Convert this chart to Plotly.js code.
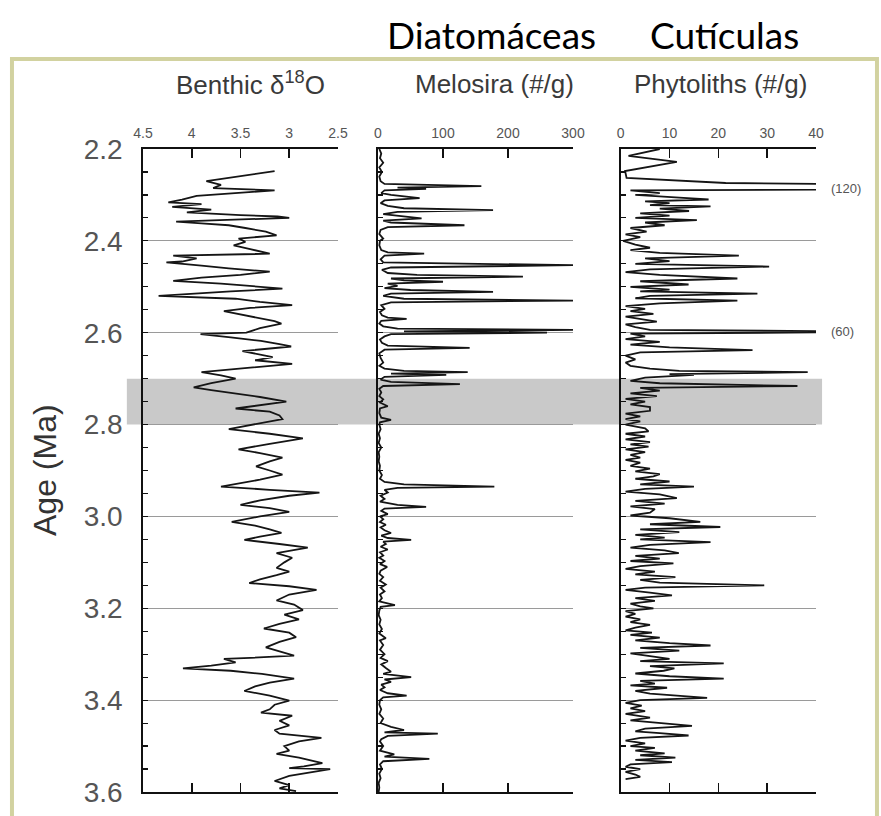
<!DOCTYPE html>
<html><head><meta charset="utf-8">
<script src="https://cdn.plot.ly/plotly-3.0.1.min.js"></script>
<style>html,body{margin:0;padding:0;background:#fff}</style>
</head><body><div id="chart" style="width:881px;height:816px"></div>
<script>
// ---- Benthic delta18O (per mil), age in Ma
const benthicAge = [2.248,2.27,2.278,2.285,2.29,2.296,2.302,2.31,2.316,2.32,2.326,2.332,2.338,2.344,2.347,2.35,2.354,2.358,2.362,2.366,2.372,2.38,2.388,2.395,2.402,2.41,2.418,2.428,2.432,2.438,2.445,2.447,2.454,2.46,2.467,2.474,2.48,2.487,2.493,2.5,2.504,2.51,2.516,2.52,2.526,2.533,2.54,2.546,2.553,2.56,2.568,2.575,2.58,2.59,2.6,2.603,2.61,2.618,2.625,2.63,2.64,2.647,2.653,2.66,2.668,2.676,2.686,2.693,2.70,2.71,2.719,2.725,2.73,2.74,2.75,2.757,2.765,2.772,2.78,2.788,2.795,2.8,2.81,2.82,2.83,2.842,2.854,2.862,2.872,2.88,2.891,2.9,2.909,2.92,2.935,2.942,2.948,2.955,2.965,2.975,2.982,2.99,3.0,3.012,3.02,3.028,3.036,3.044,3.051,3.06,3.068,3.075,3.08,3.09,3.1,3.112,3.12,3.128,3.137,3.145,3.152,3.16,3.17,3.183,3.192,3.204,3.214,3.224,3.234,3.244,3.253,3.263,3.273,3.285,3.294,3.303,3.308,3.31,3.318,3.325,3.331,3.336,3.343,3.348,3.353,3.362,3.37,3.38,3.39,3.401,3.41,3.42,3.427,3.434,3.445,3.455,3.465,3.473,3.482,3.49,3.5,3.51,3.517,3.525,3.537,3.544,3.548,3.55,3.558,3.565,3.576,3.585,3.592,3.598];
const benthicVal = [3.15,3.85,3.7,3.78,3.15,3.6,3.95,4.1,4.24,3.9,4.2,3.8,4.05,3.5,3.12,3.0,3.6,4.16,3.9,3.62,3.45,3.24,3.13,3.52,3.45,3.57,3.4,3.2,4.19,3.95,4.1,4.26,3.9,3.62,3.2,3.5,3.9,4.19,3.7,3.24,3.07,3.6,4.0,4.34,3.55,3.3,2.97,3.4,3.67,3.5,3.3,3.15,3.08,3.3,3.44,3.91,3.6,3.29,3.1,2.98,3.48,3.3,3.17,3.35,2.97,3.4,3.9,3.7,3.55,3.8,3.98,3.8,3.62,3.3,3.03,3.3,3.55,3.2,3.1,3.07,3.25,3.4,3.62,3.2,2.86,3.2,3.52,3.3,3.07,3.2,3.34,3.2,3.07,3.3,3.7,3.2,2.69,3.0,3.3,3.5,3.2,3.0,3.3,3.59,3.35,3.2,3.08,3.3,3.46,3.1,2.81,3.0,3.13,2.97,3.05,3.13,3.0,3.13,3.3,3.41,3.0,2.72,3.0,3.13,2.95,2.86,3.05,2.9,3.1,3.26,3.0,2.93,3.1,3.24,3.1,2.95,3.4,3.67,3.55,3.8,4.09,3.6,3.28,3.1,2.95,3.2,3.35,3.46,3.2,3.0,3.15,3.2,3.29,2.97,3.1,3.0,3.15,3.1,2.67,2.9,3.05,3.0,3.13,2.9,2.66,2.85,3.0,2.58,2.8,3.0,3.15,3.0,3.1,2.93];

// ---- Melosira (#/g)
const melosiraAge = [2.2,2.21,2.22,2.23,2.24,2.25,2.26,2.27,2.276,2.281,2.284,2.287,2.29,2.296,2.3,2.307,2.312,2.318,2.324,2.329,2.333,2.337,2.342,2.347,2.351,2.356,2.36,2.366,2.37,2.376,2.385,2.395,2.4,2.41,2.42,2.425,2.428,2.432,2.44,2.447,2.453,2.458,2.463,2.47,2.474,2.478,2.482,2.486,2.489,2.493,2.498,2.503,2.507,2.511,2.515,2.52,2.526,2.53,2.534,2.54,2.548,2.555,2.562,2.567,2.57,2.574,2.58,2.586,2.591,2.594,2.597,2.6,2.603,2.608,2.615,2.622,2.628,2.633,2.637,2.645,2.655,2.665,2.672,2.678,2.683,2.686,2.689,2.692,2.696,2.702,2.707,2.712,2.716,2.722,2.73,2.738,2.745,2.752,2.76,2.765,2.775,2.785,2.79,2.795,2.8,2.81,2.82,2.83,2.84,2.85,2.86,2.87,2.88,2.89,2.9,2.91,2.918,2.925,2.93,2.935,2.938,2.942,2.948,2.955,2.962,2.968,2.975,2.979,2.983,2.988,2.995,3.0,3.006,3.012,3.018,3.024,3.03,3.036,3.042,3.047,3.051,3.055,3.06,3.066,3.072,3.078,3.085,3.09,3.097,3.104,3.11,3.118,3.125,3.132,3.14,3.148,3.155,3.163,3.17,3.178,3.185,3.193,3.197,3.205,3.215,3.225,3.235,3.245,3.255,3.265,3.27,3.28,3.29,3.3,3.308,3.315,3.322,3.33,3.338,3.343,3.35,3.355,3.36,3.366,3.372,3.378,3.385,3.39,3.394,3.4,3.41,3.42,3.43,3.44,3.45,3.458,3.465,3.47,3.473,3.478,3.485,3.49,3.5,3.51,3.518,3.523,3.528,3.533,3.54,3.55,3.56,3.57,3.58,3.59,3.6];
const melosiraVal = [2,5,3,8,2,6,2,4,10,159,30,74,10,5,20,64,10,4,15,40,177,30,8,40,67,8,20,133,15,4,2,8,3,2,5,15,71,10,4,8,300,20,6,15,60,223,20,40,100,15,30,10,50,177,20,8,40,300,20,5,10,3,6,15,44,5,2,8,30,300,40,260,20,10,3,6,15,141,10,2,4,8,2,10,40,138,20,105,10,4,20,126,8,2,5,2,8,3,15,3,2,5,20,3,2,4,1,3,1,5,1,2,1,3,2,6,3,10,40,179,30,10,15,4,10,3,30,74,10,5,15,3,8,3,12,4,10,20,5,15,51,8,12,4,15,3,8,2,10,3,14,4,2,8,3,12,4,10,3,6,2,26,4,2,1,4,2,6,2,12,3,8,3,10,4,15,5,12,20,8,51,10,20,5,10,3,15,44,8,3,2,5,2,8,4,20,40,10,92,15,5,3,8,3,25,10,79,8,3,6,2,4,1,2,1];

// ---- Phytoliths (#/g)
const phytoAge = [2.2,2.215,2.228,2.248,2.263,2.274,2.285,2.29,2.296,2.3,2.306,2.31,2.314,2.318,2.322,2.325,2.33,2.335,2.34,2.345,2.35,2.355,2.36,2.366,2.372,2.38,2.386,2.392,2.4,2.408,2.415,2.42,2.426,2.432,2.438,2.444,2.45,2.456,2.462,2.468,2.474,2.482,2.488,2.495,2.5,2.506,2.51,2.515,2.52,2.525,2.53,2.536,2.542,2.548,2.553,2.559,2.565,2.57,2.576,2.582,2.588,2.594,2.598,2.602,2.608,2.614,2.62,2.626,2.632,2.638,2.643,2.65,2.658,2.665,2.672,2.678,2.683,2.686,2.69,2.692,2.698,2.705,2.71,2.716,2.72,2.726,2.732,2.738,2.744,2.75,2.756,2.762,2.77,2.776,2.782,2.788,2.793,2.8,2.808,2.815,2.82,2.826,2.832,2.838,2.843,2.848,2.854,2.86,2.866,2.872,2.877,2.883,2.89,2.896,2.902,2.908,2.913,2.918,2.924,2.93,2.935,2.94,2.946,2.952,2.96,2.966,2.972,2.978,2.984,2.992,2.998,3.004,3.012,3.017,3.023,3.028,3.034,3.04,3.046,3.05,3.056,3.062,3.068,3.074,3.08,3.086,3.092,3.097,3.102,3.108,3.114,3.12,3.126,3.132,3.138,3.144,3.15,3.155,3.16,3.166,3.172,3.178,3.184,3.19,3.196,3.2,3.206,3.212,3.218,3.224,3.23,3.236,3.242,3.248,3.253,3.258,3.264,3.27,3.276,3.281,3.286,3.292,3.298,3.304,3.31,3.315,3.32,3.326,3.331,3.336,3.342,3.348,3.353,3.358,3.364,3.368,3.373,3.38,3.386,3.395,3.4,3.406,3.412,3.418,3.424,3.43,3.438,3.444,3.45,3.456,3.462,3.468,3.472,3.477,3.482,3.488,3.494,3.5,3.504,3.51,3.516,3.52,3.525,3.53,3.535,3.54,3.545,3.55,3.556,3.562,3.567,3.572];
const phytoVal = [8,1.6,11.5,0.9,1.2,21.5,120,2,8,3,12,18,5,10,6,18.4,8,14,4,10,3,15.6,5,9,2,5.3,1,4,0.5,3,6,2,8,24.2,5,10,3,30.4,6,1,8,23.9,4,13.9,2,10,4,28,6,3,23.9,8,1,5,2,6.7,1,4,7.4,1,3,6,60,2,5,1,8,2,10,27,4,1,3,1,2,6,12,38.3,10,15,5,2,8,36.2,4,8,2,7.4,1,5,2,6,6,1,4,1,4,1,5,5.7,1,5,1,6,2,5.7,1,5,2,4,1,4,2,6,3,8,6.7,3,10,4,15,5,1,8,11.5,3,9,2,7,6,2,10,16.3,6,20.4,4,12,3,9,4,18.4,6,2,9,11.9,3,8,2,10.8,4,1,7,3,11.2,4,8,29.4,5,1,6,10.5,3,7,2,4,6.7,1,3,1,4,2,6,3,1,6.4,2,8,3,10,18.4,4,12,2,6,10,4,21.1,6,11,8.8,3,10,21.1,4,7,2,9.5,3,6,17.7,4,1,4.3,2,5,1,6,2,8,14.6,5,3,8,13.9,4,1,5,2,7,3,9,4,11.2,3,10.5,2,1,4,1,3,4,1];

// ---- labels
const headerLabels = ['Diatomáceas', 'Cutículas'];
const panelTitles = ['Benthic δ<sup>18</sup>O', 'Melosira (#/g)', 'Phytoliths (#/g)'];
const benthicTicks = [4.5, 4, 3.5, 3, 2.5];
const benthicTickText = ['4.5', '4', '3.5', '3', '2.5'];
const melosiraTicks = [0, 100, 200, 300];
const phytoTicks = [0, 10, 20, 30, 40];
const offScaleNotes = [{age: 2.287, text: '(120)'}, {age: 2.598, text: '(60)'}];
const bandAges = [2.7, 2.8];
const ageRange = [3.6, 2.2];

const sans = 'Liberation Sans, Arial, sans-serif';
const lineStyle = {color: '#151515', width: 1.8};

const traces = [
  {x: benthicVal, y: benthicAge, xaxis: 'x', yaxis: 'y', type: 'scatter', mode: 'lines', line: lineStyle, hoverinfo: 'skip'},
  {x: melosiraVal, y: melosiraAge, xaxis: 'x2', yaxis: 'y2', type: 'scatter', mode: 'lines', line: lineStyle, hoverinfo: 'skip'},
  {x: phytoVal, y: phytoAge, xaxis: 'x3', yaxis: 'y3', type: 'scatter', mode: 'lines', line: lineStyle, hoverinfo: 'skip'}
];

function xAxis(domain, range, ticks, text, anchor) {
  return {domain, range, anchor, side: 'top', tickmode: 'array', tickvals: ticks, ticktext: text || ticks.map(String),
    showline: true, linecolor: '#111', linewidth: 1.8, mirror: 'ticks', ticks: 'inside', ticklen: 9, tickwidth: 1.6, tickcolor: '#111',
    showgrid: false, zeroline: false, ticklabelstandoff: 4,
    tickfont: {family: sans, size: 14, color: '#555'}};
}
function yAxis(anchor, labels) {
  return {anchor, range: ageRange, tickmode: 'linear', tick0: 2.2, dtick: 0.2, tickformat: '.1f',
    showticklabels: labels, showline: true, linecolor: '#111', linewidth: 1.8, ticks: 'inside', ticklen: 5, tickwidth: 1.2, tickcolor: '#111',
    minor: {tick0: 2.2, dtick: 0.05, ticks: 'inside', ticklen: 5, tickwidth: 1.2, tickcolor: '#111', showgrid: false},
    showgrid: true, gridcolor: '#9a9a9a', gridwidth: 1, zeroline: false, ticklabelstandoff: 13,
    tickfont: {family: sans, size: 28, color: '#555'}};
}

function note(x, y, text, size, color, family, extra) {
  return Object.assign({xref: 'paper', yref: 'paper', x, y, text, showarrow: false, xanchor: 'center', yanchor: 'middle',
    font: {family, size, color}}, extra || {});
}

const annotations = [
  note(0.5171, 1.1773, headerLabels[0], 37, '#000', 'Lato, Carlito, sans-serif'),
  note(0.8633, 1.1773, headerLabels[1], 37, '#000', 'Lato, Carlito, sans-serif'),
  note(0.159, 1.1011, panelTitles[0], 26, '#3a3a3a', sans),
  note(0.523, 1.1011, panelTitles[1], 26, '#3a3a3a', sans),
  note(0.8588, 1.1011, panelTitles[2], 26, '#3a3a3a', sans),
  note(-0.1456, 0.5008, 'Age (Ma)', 32, '#333', sans, {textangle: -90})
].concat(offScaleNotes.map(n => note(1.02, n.age, n.text, 13, '#555', sans, {yref: 'y3', xanchor: 'left'})));

const layout = {
  width: 881, height: 816,
  margin: {l: 143, r: 65, t: 149, b: 24},
  paper_bgcolor: '#fff', plot_bgcolor: 'rgba(0,0,0,0)',
  showlegend: false,
  xaxis: xAxis([0, 0.2897], [4.5, 2.5], benthicTicks, benthicTickText, 'y'),
  xaxis2: xAxis([0.3492, 0.6389], [0, 300], melosiraTicks, null, 'y2'),
  xaxis3: xAxis([0.7098, 1], [0, 40], phytoTicks, null, 'y3'),
  yaxis: yAxis('x', true),
  yaxis2: yAxis('x2', false),
  yaxis3: yAxis('x3', false),
  shapes: [
    {type: 'rect', xref: 'paper', yref: 'y', x0: -0.024, x1: 1.009, y0: bandAges[0], y1: bandAges[1], fillcolor: '#c9c9c9', line: {width: 0}, layer: 'below'},
    {type: 'rect', xref: 'paper', yref: 'paper', x0: -0.1947, x1: 1.0906, y0: -0.08, y1: 1.14, fillcolor: 'rgba(0,0,0,0)', line: {color: '#d2d2a0', width: 4}, layer: 'below'}
  ],
  annotations
};

Plotly.newPlot('chart', traces, layout, {staticPlot: true, displayModeBar: false});
</script></body></html>
